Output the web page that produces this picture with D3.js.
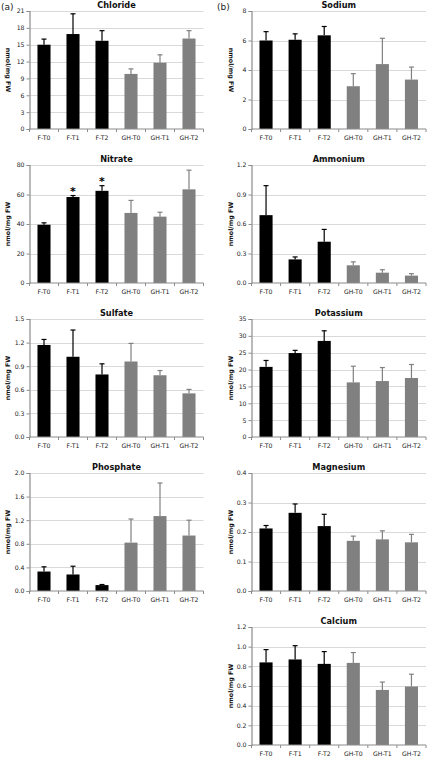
<!DOCTYPE html>
<html>
<head>
<meta charset="utf-8">
<script src="https://cdn.jsdelivr.net/npm/d3@7"></script>
<style>
  html, body { margin: 0; padding: 0; background: #fff; }
  svg { display: block; }
</style>
</head>
<body>
<svg id="chart" width="431" height="758"></svg>
<script>
// ---------- DATA ----------
const categories = ["F-T0", "F-T1", "F-T2", "GH-T0", "GH-T1", "GH-T2"];

const chlorideMean = [15.0, 16.9, 15.7, 9.8, 11.8, 16.1];
const chlorideErr  = [1.0, 3.6, 1.8, 0.9, 1.4, 1.4];
const chlorideTicks = [0, 3, 6, 9, 12, 15, 18, 21];

const nitrateMean = [39.5, 58.3, 62.5, 47.5, 45.0, 63.5];
const nitrateErr  = [1.3, 1.0, 3.5, 8.5, 3.0, 13.0];
const nitrateTicks = [0, 20, 40, 60, 80];
const nitrateStars = [false, true, true, false, false, false];

const sulfateMean = [1.17, 1.02, 0.795, 0.96, 0.785, 0.555];
const sulfateErr  = [0.07, 0.34, 0.135, 0.23, 0.06, 0.05];
const sulfateTicks = [0, 0.3, 0.6, 0.9, 1.2, 1.5];

const phosphateMean = [0.33, 0.28, 0.10, 0.82, 1.27, 0.94];
const phosphateErr  = [0.08, 0.14, 0.01, 0.40, 0.56, 0.26];
const phosphateTicks = [0, 0.4, 0.8, 1.2, 1.6, 2.0];

const sodiumMean = [6.0, 6.05, 6.35, 2.9, 4.4, 3.35];
const sodiumErr  = [0.6, 0.4, 0.6, 0.85, 1.75, 0.85];
const sodiumTicks = [0, 2, 4, 6, 8];

const ammoniumMean = [0.69, 0.24, 0.42, 0.18, 0.105, 0.075];
const ammoniumErr  = [0.30, 0.025, 0.125, 0.035, 0.03, 0.02];
const ammoniumTicks = [0, 0.3, 0.6, 0.9, 1.2];

const potassiumMean = [20.8, 24.9, 28.5, 16.2, 16.6, 17.5];
const potassiumErr  = [1.9, 0.8, 3.0, 4.8, 4.0, 4.0];
const potassiumTicks = [0, 5, 10, 15, 20, 25, 30, 35];

const magnesiumMean = [0.212, 0.265, 0.22, 0.17, 0.175, 0.165];
const magnesiumErr  = [0.010, 0.030, 0.040, 0.016, 0.029, 0.027];
const magnesiumTicks = [0, 0.1, 0.2, 0.3, 0.4];

const calciumMean = [0.84, 0.87, 0.825, 0.835, 0.56, 0.595];
const calciumErr  = [0.13, 0.14, 0.125, 0.105, 0.08, 0.125];
const calciumTicks = [0, 0.2, 0.4, 0.6, 0.8, 1.0, 1.2];

const yLabel = "nmol/mg FW";

// ---------- LAYOUT ----------
const svg = d3.select("#chart");
svg.append("rect").attr("width", 431).attr("height", 758).attr("fill", "#fff");

const FONT = "'DejaVu Sans', Verdana, sans-serif";
const colF = "#000000";
const colGH = "#808080";
const plotH = 118;
const pitch = 154;
const firstTop = 11;

const panels = [
  { title: "Chloride",  mean: chlorideMean,  err: chlorideErr,  ticks: chlorideTicks,  fmt: d3.format("d"),   col: 0, row: 0, flip: true },
  { title: "Nitrate",   mean: nitrateMean,   err: nitrateErr,   ticks: nitrateTicks,   fmt: d3.format("d"),   col: 0, row: 1, stars: nitrateStars },
  { title: "Sulfate",   mean: sulfateMean,   err: sulfateErr,   ticks: sulfateTicks,   fmt: d3.format(".1f"), col: 0, row: 2 },
  { title: "Phosphate", mean: phosphateMean, err: phosphateErr, ticks: phosphateTicks, fmt: d3.format(".1f"), col: 0, row: 3 },
  { title: "Sodium",    mean: sodiumMean,    err: sodiumErr,    ticks: sodiumTicks,    fmt: d3.format("d"),   col: 1, row: 0, flip: true },
  { title: "Ammonium",  mean: ammoniumMean,  err: ammoniumErr,  ticks: ammoniumTicks,  fmt: d3.format(".1f"), col: 1, row: 1 },
  { title: "Potassium", mean: potassiumMean, err: potassiumErr, ticks: potassiumTicks, fmt: d3.format("d"),   col: 1, row: 2 },
  { title: "Magnesium", mean: magnesiumMean, err: magnesiumErr, ticks: magnesiumTicks, fmt: d3.format(".1f"), col: 1, row: 3 },
  { title: "Calcium",   mean: calciumMean,   err: calciumErr,   ticks: calciumTicks,   fmt: d3.format(".1f"), col: 1, row: 4 }
];

const colGeom = [
  { x0: 29.5, x1: 203.5, labelX: 8 },
  { x0: 251.5, x1: 426, labelX: 231 }
];

// column letters
svg.append("text").attr("x", 1).attr("y", 10).text("(a)")
  .attr("font-family", FONT).attr("font-size", 9).attr("fill", "#222");
svg.append("text").attr("x", 217).attr("y", 10).text("(b)")
  .attr("font-family", FONT).attr("font-size", 9).attr("fill", "#222");

panels.forEach(p => {
  const g = colGeom[p.col];
  const top = firstTop + p.row * pitch;
  const bottom = top + plotH;
  const y = d3.scaleLinear().domain([0, d3.max(p.ticks)]).range([bottom, top]);
  const x = d3.scaleBand().domain(categories).range([g.x0, g.x1]).paddingInner(0.55).paddingOuter(0.275);
  const pg = svg.append("g");

  // gridlines
  pg.selectAll(".grid").data(p.ticks.filter(t => t > 0)).join("line")
    .attr("x1", g.x0).attr("x2", g.x1)
    .attr("y1", d => Math.round(y(d)) + 0.5).attr("y2", d => Math.round(y(d)) + 0.5)
    .attr("stroke", "#d9d9d9").attr("stroke-width", 1);

  // bars
  pg.selectAll(".bar").data(categories).join("rect")
    .attr("x", d => x(d)).attr("width", x.bandwidth())
    .attr("y", (d, i) => y(p.mean[i]))
    .attr("height", (d, i) => bottom - y(p.mean[i]))
    .attr("fill", (d, i) => i < 3 ? colF : colGH);

  // error bars (upper only)
  const cap = 5;
  pg.selectAll(".err").data(categories).join("line")
    .attr("x1", d => x(d) + x.bandwidth() / 2).attr("x2", d => x(d) + x.bandwidth() / 2)
    .attr("y1", (d, i) => y(p.mean[i])).attr("y2", (d, i) => y(p.mean[i] + p.err[i]))
    .attr("stroke", (d, i) => i < 3 ? colF : colGH).attr("stroke-width", 1.2);
  pg.selectAll(".cap").data(categories).join("line")
    .attr("x1", d => x(d) + x.bandwidth() / 2 - cap / 2).attr("x2", d => x(d) + x.bandwidth() / 2 + cap / 2)
    .attr("y1", (d, i) => y(p.mean[i] + p.err[i])).attr("y2", (d, i) => y(p.mean[i] + p.err[i]))
    .attr("stroke", (d, i) => i < 3 ? colF : colGH).attr("stroke-width", 1.2);

  // significance stars
  if (p.stars) {
    pg.selectAll(".star").data(categories.filter((d, i) => p.stars[i])).join("text")
      .attr("x", d => x(d) + x.bandwidth() / 2)
      .attr("y", d => { const i = categories.indexOf(d); return y(p.mean[i] + p.err[i]) - 1; })
      .attr("text-anchor", "middle").attr("font-family", FONT).attr("font-size", 11)
      .attr("font-weight", "bold").attr("fill", "#000").text("*");
  }

  // y axis
  const yAxis = d3.axisLeft(y).tickValues(p.ticks).tickFormat(p.fmt).tickSize(3).tickPadding(2);
  const ya = pg.append("g").attr("transform", `translate(${g.x0},0)`).call(yAxis);
  ya.select(".domain").attr("stroke", "#8c8c8c").attr("stroke-width", 1.2);
  ya.selectAll(".tick line").attr("stroke", "#8c8c8c");
  ya.selectAll(".tick text").attr("font-family", FONT).attr("font-size", 6.2).attr("fill", "#222");

  // x axis with ticks at band boundaries
  const xa = pg.append("g").attr("transform", `translate(0,${bottom})`);
  xa.append("line").attr("x1", g.x0).attr("x2", g.x1).attr("y1", 0).attr("y2", 0)
    .attr("stroke", "#8c8c8c").attr("stroke-width", 1.2);
  const bounds = d3.range(categories.length + 1).map(i => g.x0 + i * (g.x1 - g.x0) / categories.length);
  xa.selectAll(".xt").data(bounds).join("line")
    .attr("x1", d => d).attr("x2", d => d).attr("y1", 0).attr("y2", 3)
    .attr("stroke", "#8c8c8c");
  xa.selectAll(".xl").data(categories).join("text")
    .attr("x", d => x(d) + x.bandwidth() / 2).attr("y", 11)
    .attr("text-anchor", "middle").attr("font-family", FONT).attr("font-size", 6.2)
    .attr("fill", "#222").text(d => d);

  // title
  pg.append("text").attr("x", (g.x0 + g.x1) / 2).attr("y", top - 3)
    .attr("text-anchor", "middle").attr("font-family", FONT).attr("font-size", 8.2)
    .attr("font-weight", "bold").attr("fill", "#111").text(p.title);

  // y label
  const cy = (top + bottom) / 2;
  pg.append("text")
    .attr("transform", `translate(${g.labelX},${cy}) rotate(${p.flip ? 90 : -90})`)
    .attr("text-anchor", "middle").attr("dy", "0.35em")
    .attr("font-family", FONT).attr("font-size", 6.3).attr("font-weight", "bold")
    .attr("fill", "#111").text(yLabel);
});
</script>
</body>
</html>
